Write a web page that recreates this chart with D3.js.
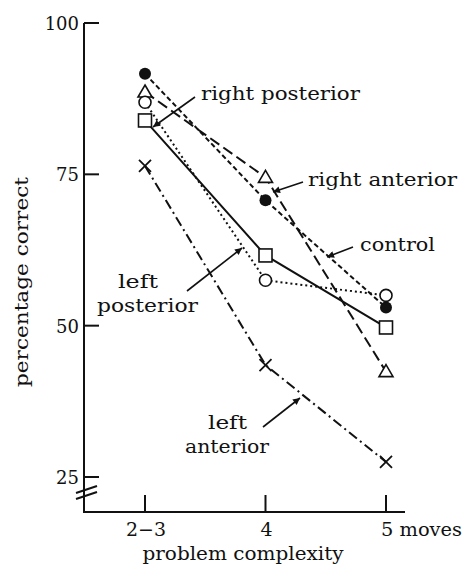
<!DOCTYPE html>
<html>
<head>
<meta charset="utf-8">
<script src="https://cdn.jsdelivr.net/npm/d3@7"></script>
<style>
  body { margin: 0; background: #fff; }
</style>
</head>
<body>
<script>
// data
var categories = ["2\u22123", "4", "5"];
var yTicks = [25, 50, 75, 100];
var controlVals        = [91.6, 70.7, 53.0];
var rightAnteriorVals  = [88.6, 74.5, 42.4];
var leftPosteriorVals  = [86.9, 57.5, 55.0];
var rightPosteriorVals = [83.9, 61.6, 49.7];
var leftAnteriorVals   = [76.4, 43.5, 27.5];

var w = 462, h = 567;
var font = "DejaVu Serif";

var svg = d3.select("body")
            .append("svg")
            .attr("width", w)
            .attr("height", h)
            .attr("font-family", font)
            .attr("fill", "#111");

var x = d3.scalePoint().domain(categories).range([145, 386]);
var y = d3.scaleLinear().domain([25, 100]).range([477, 23]);

var axisX = 84, axisY = 512;

// axes drawn by hand (old-style figure with inward ticks)
svg.append("line")
   .attr("x1", axisX).attr("x2", axisX)
   .attr("y1", y(100)).attr("y2", axisY)
   .attr("stroke", "#111").attr("stroke-width", 2);
svg.append("line")
   .attr("x1", axisX - 1).attr("x2", 405)
   .attr("y1", axisY).attr("y2", axisY)
   .attr("stroke", "#111").attr("stroke-width", 2);

// y ticks
var yt = svg.append("g");
yt.selectAll("line").data(yTicks).enter().append("line")
  .attr("x1", axisX).attr("x2", axisX + 15)
  .attr("y1", function(d){ return y(d); })
  .attr("y2", function(d){ return y(d); })
  .attr("stroke", "#111").attr("stroke-width", 2);
yt.selectAll("text").data(yTicks).enter().append("text")
  .attr("x", axisX - 5)
  .attr("y", function(d){ return y(d) + 7; })
  .attr("text-anchor", "end")
  .attr("font-size", 18)
  .text(function(d){ return d; });

// axis break
[0, 6].forEach(function(off){
    svg.append("line")
       .attr("x1", 76).attr("y1", 493 + off)
       .attr("x2", 97).attr("y2", 486 + off)
       .attr("stroke", "#111").attr("stroke-width", 2);
});

// x ticks
var xt = svg.append("g");
xt.selectAll("line").data(categories).enter().append("line")
  .attr("x1", function(d){ return x(d); })
  .attr("x2", function(d){ return x(d); })
  .attr("y1", axisY).attr("y2", axisY - 17)
  .attr("stroke", "#111").attr("stroke-width", 2);
xt.selectAll("text").data(categories).enter().append("text")
  .attr("x", function(d, i){ return i == 2 ? x(d) - 5 : x(d) + 1; })
  .attr("y", 536)
  .attr("text-anchor", function(d, i){ return i == 2 ? "start" : "middle"; })
  .attr("font-size", 19)
  .attr("textLength", function(d, i){ return i == 2 ? 81 : (i == 0 ? 40 : null); })
  .attr("lengthAdjust", "spacingAndGlyphs")
  .text(function(d, i){ return i == 2 ? d + " moves" : d; });

svg.append("text")
   .attr("x", 243).attr("y", 560)
   .attr("text-anchor", "middle")
   .attr("font-size", 19)
   .attr("textLength", 201)
   .attr("lengthAdjust", "spacingAndGlyphs")
   .text("problem complexity");

svg.append("text")
   .attr("transform", "translate(28,282) rotate(-90)")
   .attr("text-anchor", "middle")
   .attr("font-size", 19)
   .attr("textLength", 210)
   .attr("lengthAdjust", "spacingAndGlyphs")
   .text("percentage correct");

// series
var series = [
    {name: "left anterior",   vals: leftAnteriorVals,   dash: "10,4,2,4", mark: "cross"},
    {name: "right anterior",  vals: rightAnteriorVals,  dash: "11,5",     mark: "triangle"},
    {name: "control",         vals: controlVals,        dash: "5,3",      mark: "filled"},
    {name: "left posterior",  vals: leftPosteriorVals,  dash: "2,3",      mark: "circle"},
    {name: "right posterior", vals: rightPosteriorVals, dash: null,       mark: "square"}
];

var line = d3.line()
             .x(function(d, i){ return x(categories[i]); })
             .y(function(d){ return y(d); });

var lines = svg.append("g");
series.forEach(function(s){
    lines.append("path")
         .datum(s.vals)
         .attr("d", line)
         .attr("fill", "none")
         .attr("stroke", "#111")
         .attr("stroke-width", 2)
         .attr("stroke-dasharray", s.dash);
});

var marks = svg.append("g");
series.forEach(function(s){
    var g = marks.selectAll(null).data(s.vals).enter().append("g")
                 .attr("transform", function(d, i){
                     return "translate(" + x(categories[i]) + "," + y(d) + ")";
                 });
    if (s.mark == "filled") {
        g.append("circle").attr("r", 6).attr("fill", "#111");
    } else if (s.mark == "circle") {
        g.append("circle").attr("r", 6).attr("fill", "#fff")
         .attr("stroke", "#111").attr("stroke-width", 1.6);
    } else if (s.mark == "square") {
        g.append("rect").attr("x", -6.5).attr("y", -6.5)
         .attr("width", 13).attr("height", 13)
         .attr("fill", "#fff").attr("stroke", "#111").attr("stroke-width", 1.6);
    } else if (s.mark == "triangle") {
        g.append("path").attr("d", "M0,-7L7,5L-7,5Z")
         .attr("fill", "#fff").attr("stroke", "#111").attr("stroke-width", 1.6);
    } else {
        g.append("path").attr("d", "M-6,-6L6,6M-6,6L6,-6")
         .attr("stroke", "#111").attr("stroke-width", 1.8);
    }
});

// annotations
svg.append("defs").append("marker")
   .attr("id", "head")
   .attr("viewBox", "0 0 10 10")
   .attr("refX", 10).attr("refY", 5)
   .attr("markerWidth", 11).attr("markerHeight", 7)
   .attr("markerUnits", "userSpaceOnUse")
   .attr("orient", "auto")
   .append("path").attr("d", "M0,0L10,5L0,10Z").attr("fill", "#111");

var arrows = [
    [195, 97, 153, 127],
    [303, 182, 273, 192],
    [353, 247, 327, 257],
    [187, 291, 242, 248],
    [263, 427, 300, 398]
];
svg.append("g").selectAll("line").data(arrows).enter().append("line")
   .attr("x1", function(d){ return d[0]; })
   .attr("y1", function(d){ return d[1]; })
   .attr("x2", function(d){ return d[2]; })
   .attr("y2", function(d){ return d[3]; })
   .attr("stroke", "#111").attr("stroke-width", 1.6)
   .attr("marker-end", "url(#head)");

var labels = [
    {t: "right posterior", x: 201, y: 100, len: 159},
    {t: "right anterior",  x: 308, y: 186, len: 149},
    {t: "control",         x: 360, y: 251, len: 75},
    {t: "left",            x: 118, y: 288, len: 40},
    {t: "posterior",       x: 97,  y: 312, len: 101},
    {t: "left",            x: 208, y: 429, len: 39},
    {t: "anterior",        x: 185, y: 453, len: 84}
];
svg.append("g").selectAll("text").data(labels).enter().append("text")
   .attr("x", function(d){ return d.x; })
   .attr("y", function(d){ return d.y; })
   .attr("font-size", 19)
   .attr("textLength", function(d){ return d.len; })
   .attr("lengthAdjust", "spacingAndGlyphs")
   .text(function(d){ return d.t; });
</script>
</body>
</html>
